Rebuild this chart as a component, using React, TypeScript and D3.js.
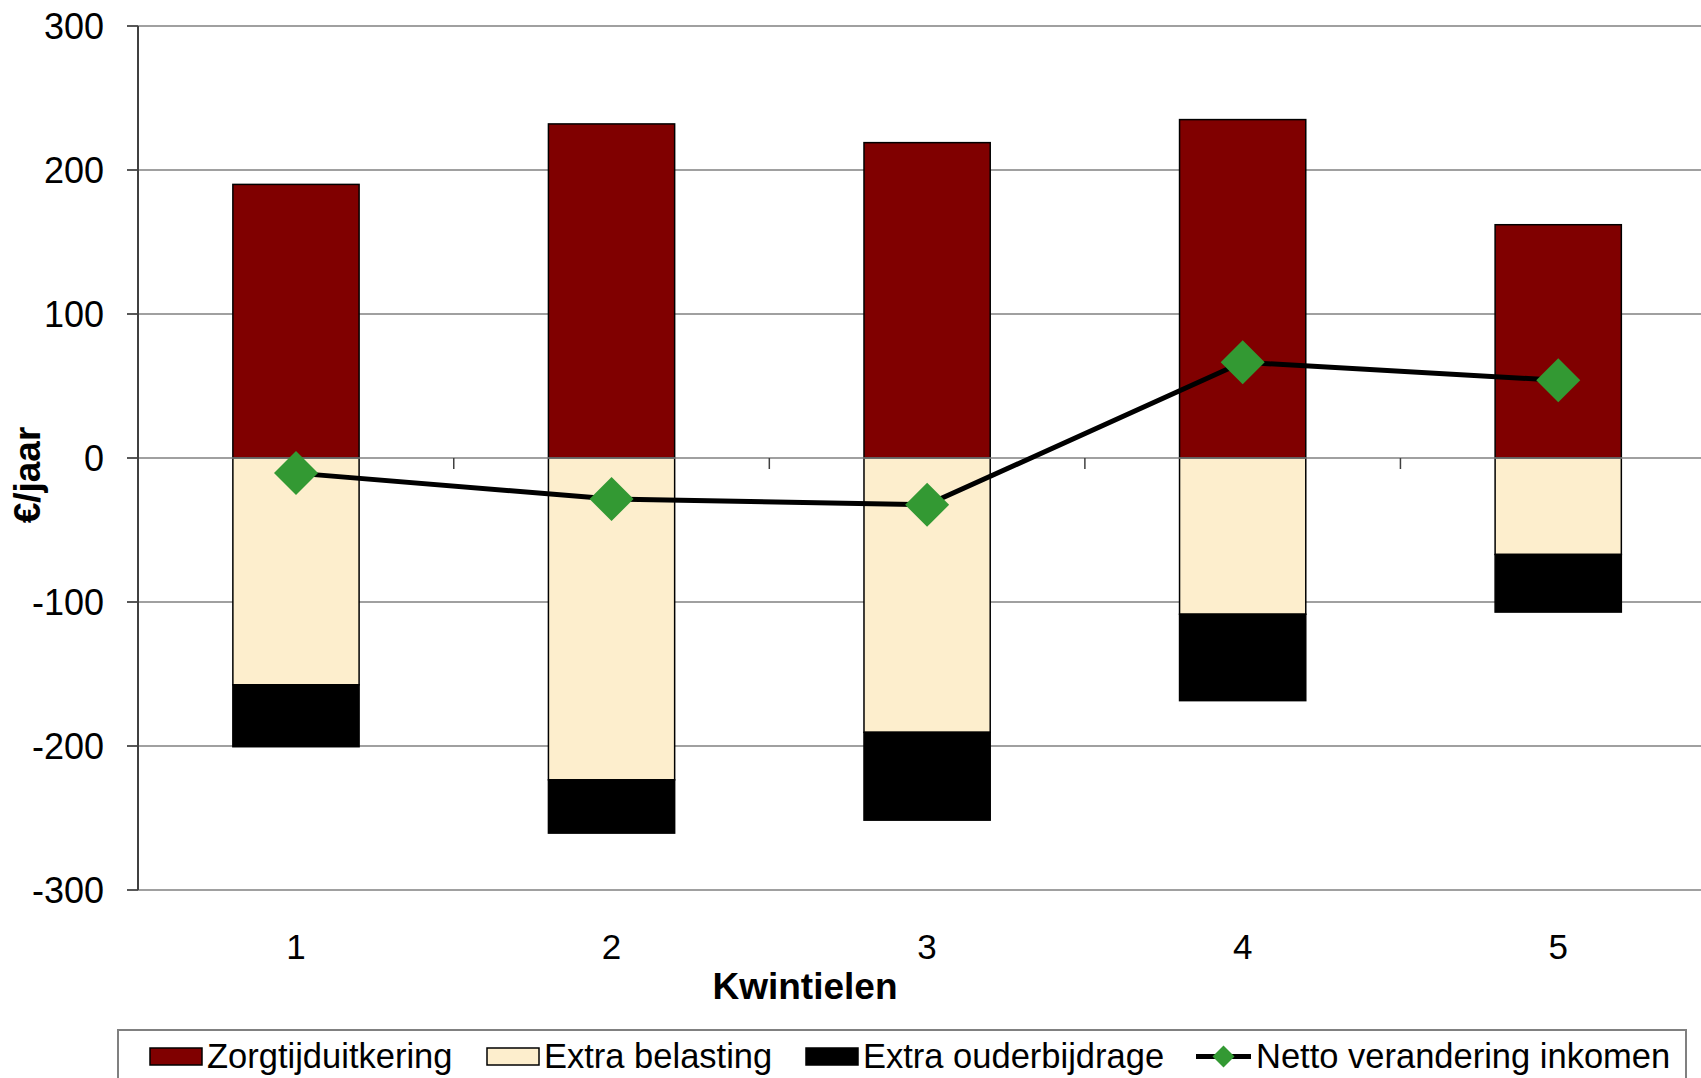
import React from 'react';
import * as d3 from 'd3';

const categories = ['1', '2', '3', '4', '5'];
const zorgtijd = [190, 232, 219, 235, 162];
const belasting = [-157.5, -223.5, -190.5, -108.5, -67];
const ouder = [-43, -37, -61, -60, -40];
const netto = [-10.5, -28.5, -32.5, 66.5, 54];
const yTicks = [300, 200, 100, 0, -100, -200, -300];

const W = 1701;
const H = 1078;
const font = "'Liberation Sans', Arial, sans-serif";

const colors = {
  zorg: '#800000',
  bel: '#FDEECD',
  ouder: '#000000',
  netto: '#339933',
};

export default function App() {
  const x = d3.scaleBand<string>()
    .domain(categories)
    .range([138.2, 1716])
    .paddingInner(0.6)
    .paddingOuter(0.3);
  const step = x.step();
  const bw = x.bandwidth();
  const cx = (c: string) => (x(c) as number) + bw / 2;

  const y = d3.scaleLinear().domain([-300, 300]).range([890, 26]);

  const line = d3.line<number>()
    .x((_, i) => cx(categories[i]))
    .y(d => y(d));

  const diamond = (px: number, py: number, r: number) =>
    `M${px},${py - r}L${px + r},${py}L${px},${py + r}L${px - r},${py}Z`;

  // legend layout
  const legendY = 1048;
  const swatches = [
    { label: 'Zorgtijduitkering', color: colors.zorg, x: 150 },
    { label: 'Extra belasting', color: colors.bel, x: 487 },
    { label: 'Extra ouderbijdrage', color: colors.ouder, x: 806 },
  ];

  return (
    <div style={{ position: 'absolute', left: 0, top: 0 }}>
      <svg width={W} height={H} style={{ display: 'block', background: '#fff', fontFamily: font }}>
        {/* gridlines */}
        {yTicks.filter(t => t !== 0).map(t => (
          <line key={t} x1={127} x2={W} y1={y(t)} y2={y(t)} stroke="#808080" strokeWidth={1.5} />
        ))}

        {/* bars */}
        {categories.map((c, i) => {
          const x0 = x(c) as number;
          const b0 = belasting[i];
          const o0 = b0 + ouder[i];
          return (
            <g key={c}>
              <rect x={x0} width={bw} y={y(zorgtijd[i])} height={y(0) - y(zorgtijd[i])}
                fill={colors.zorg} stroke="#000" strokeWidth={1.5} />
              <rect x={x0} width={bw} y={y(0)} height={y(b0) - y(0)}
                fill={colors.bel} stroke="#000" strokeWidth={1.5} />
              <rect x={x0} width={bw} y={y(b0)} height={y(o0) - y(b0)}
                fill={colors.ouder} stroke="#000" strokeWidth={1.5} />
            </g>
          );
        })}

        {/* zero axis */}
        <line x1={127} x2={W} y1={y(0)} y2={y(0)} stroke="#808080" strokeWidth={1.5} />
        {categories.slice(1).map(c => (
          <line key={c} x1={(x(c) as number) - (step - bw) / 2} x2={(x(c) as number) - (step - bw) / 2}
            y1={y(0)} y2={y(0) + 11} stroke="#404040" strokeWidth={1.5} />
        ))}

        {/* y axis */}
        <line x1={138} x2={138} y1={y(300)} y2={y(-300)} stroke="#404040" strokeWidth={2} />
        {yTicks.map(t => (
          <g key={t}>
            <line x1={127} x2={138} y1={y(t)} y2={y(t)} stroke="#404040" strokeWidth={1.5} />
            <text x={104} y={y(t) + 13} textAnchor="end" fontSize={36} fill="#000">{t}</text>
          </g>
        ))}
        <text transform={`translate(40,475) rotate(-90)`} textAnchor="middle" fontSize={37}
          fontWeight="bold" fill="#000">€/jaar</text>

        {/* x labels */}
        {categories.map(c => (
          <text key={c} x={cx(c)} y={959} textAnchor="middle" fontSize={35} fill="#000">{c}</text>
        ))}
        <text x={805} y={999} textAnchor="middle" fontSize={37} fontWeight="bold" fill="#000">Kwintielen</text>

        {/* netto line */}
        <path d={line(netto) as string} fill="none" stroke="#000" strokeWidth={5} />
        {netto.map((v, i) => (
          <path key={i} d={diamond(cx(categories[i]), y(v), 22)} fill={colors.netto} />
        ))}

        {/* legend */}
        <rect x={118} y={1030} width={1568} height={70} fill="#fff" stroke="#808080" strokeWidth={2} />
        {swatches.map(s => (
          <g key={s.label}>
            <rect x={s.x} y={legendY} width={52} height={17} fill={s.color} stroke="#000" strokeWidth={1.5} />
            <text x={s.x + 57} y={1068} fontSize={34.5} fill="#000">{s.label}</text>
          </g>
        ))}
        <line x1={1196} x2={1251} y1={1056.5} y2={1056.5} stroke="#000" strokeWidth={5} />
        <path d={diamond(1223.5, 1056.5, 11)} fill={colors.netto} />
        <text x={1256} y={1068} fontSize={34.5} fill="#000">Netto verandering inkomen</text>
      </svg>
    </div>
  );
}
